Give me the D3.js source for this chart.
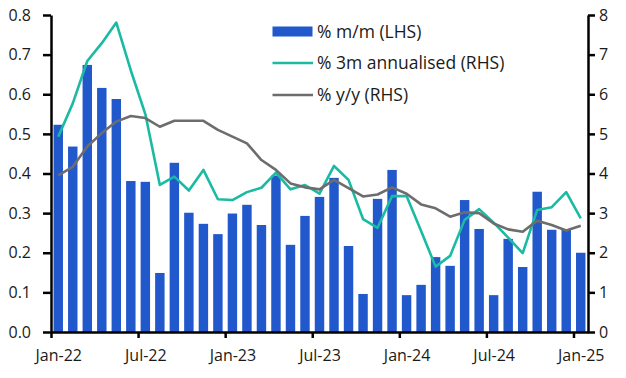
<!DOCTYPE html>
<html>
<head>
<meta charset="utf-8">
<script src="https://cdn.jsdelivr.net/npm/d3@7"></script>
<style>
  html, body { margin: 0; padding: 0; background: #fff; }
  svg text { font-family: "Open Sans", "Noto Sans", sans-serif; fill: #1a1a1a; }
</style>
</head>
<body>
<svg id="chart" width="626" height="378"></svg>
<script>
const months = ["Jan-22","Feb-22","Mar-22","Apr-22","May-22","Jun-22","Jul-22","Aug-22","Sep-22","Oct-22","Nov-22","Dec-22",
  "Jan-23","Feb-23","Mar-23","Apr-23","May-23","Jun-23","Jul-23","Aug-23","Sep-23","Oct-23","Nov-23","Dec-23",
  "Jan-24","Feb-24","Mar-24","Apr-24","May-24","Jun-24","Jul-24","Aug-24","Sep-24","Oct-24","Nov-24","Dec-24","Jan-25"];
const mom = [0.523,0.468,0.674,0.616,0.588,0.381,0.379,0.149,0.427,0.301,0.273,0.247,
  0.299,0.321,0.270,0.395,0.220,0.293,0.341,0.389,0.217,0.096,0.336,0.409,
  0.093,0.119,0.189,0.167,0.333,0.260,0.093,0.235,0.164,0.354,0.258,0.258,0.200];
const ann3m = [4.93,5.77,6.84,7.29,7.81,6.6,5.5,3.71,3.92,3.57,4.09,3.35,
  3.33,3.53,3.64,4.02,3.60,3.71,3.49,4.19,3.84,2.85,2.63,3.43,
  3.43,2.55,1.65,1.92,2.83,3.10,2.76,2.38,1.99,3.08,3.15,3.53,2.87];
const yoy = [3.95,4.17,4.68,5.02,5.31,5.45,5.40,5.18,5.33,5.33,5.33,5.10,
  4.93,4.76,4.34,4.09,3.75,3.65,3.60,3.84,3.63,3.42,3.47,3.65,
  3.49,3.22,3.12,2.91,3.02,3.00,2.74,2.59,2.53,2.81,2.70,2.56,2.68];
const xTickIdx = [0,6,12,18,24,30,36];
const xTickLabels = ["Jan-22","Jul-22","Jan-23","Jul-23","Jan-24","Jul-24","Jan-25"];
const leftTicks = [0,0.1,0.2,0.3,0.4,0.5,0.6,0.7,0.8];
const rightTicks = [0,1,2,3,4,5,6,7,8];
const legendLabels = ["% m/m (LHS)","% 3m annualised (RHS)","% y/y (RHS)"];

const colBar = "#2158cc", colTeal = "#1bbaa3", colGrey = "#6d6d6d";
const L = 51, R = 588, T = 15, B = 332;
const svg = d3.select("#chart");

const x = d3.scaleBand().domain(months).range([L, R]).paddingInner(0.35).paddingOuter(0.175);
const xi = d3.scaleLinear().domain([0, months.length]).range([L, R]);
const yL = d3.scaleLinear().domain([0, 0.8]).range([B, T]);
const yR = d3.scaleLinear().domain([0, 8]).range([B, T]);

// bars
svg.append("g").selectAll("rect").data(mom).join("rect")
  .attr("x", (d,i) => x(months[i]))
  .attr("width", x.bandwidth())
  .attr("y", d => yL(d))
  .attr("height", d => yL(0) - yL(d))
  .attr("fill", colBar);

const cx = i => x(months[i]) + x.bandwidth()/2;
const lineR = d3.line().x((d,i) => cx(i)).y(d => yR(d));
svg.append("path").datum(ann3m).attr("d", lineR).attr("fill","none")
  .attr("stroke", colTeal).attr("stroke-width", 2.6).attr("stroke-linejoin","round");
svg.append("path").datum(yoy).attr("d", lineR).attr("fill","none")
  .attr("stroke", colGrey).attr("stroke-width", 2.6).attr("stroke-linejoin","round");

// axes
function styleAxis(g) {
  g.selectAll(".domain").attr("stroke","#000").attr("stroke-width",2.5);
  g.selectAll(".tick line").attr("stroke","#000").attr("stroke-width",2.5);
  g.selectAll("text").style("font-size","16px").style("font-family","'Open Sans', sans-serif").attr("fill","#1a1a1a");
}
svg.append("g").attr("transform",`translate(${L},0)`)
  .call(d3.axisLeft(yL).tickValues(leftTicks).tickFormat(d3.format(".1f")).tickSize(8).tickSizeOuter(0).tickPadding(12))
  .call(styleAxis);
svg.append("g").attr("transform",`translate(${R},0)`)
  .call(d3.axisRight(yR).tickValues(rightTicks).tickFormat(d3.format("d")).tickSize(7).tickSizeOuter(0).tickPadding(4))
  .call(styleAxis);
const xAxisG = svg.append("g").attr("transform",`translate(0,${B})`)
  .call(d3.axisBottom(xi).tickValues(xTickIdx).tickFormat((d,i) => xTickLabels[i]).tickSize(6).tickSizeOuter(0).tickPadding(12))
  .call(styleAxis);
// labels sit under the month's bar centre, ticks at the month boundary
xAxisG.selectAll(".tick text").attr("x", x.step()/2);

// legend
const lg = svg.append("g");
const ly = [31.5, 63, 95];
lg.append("rect").attr("x",272.5).attr("y",ly[0]-5).attr("width",40).attr("height",10).attr("fill",colBar);
lg.append("line").attr("x1",272.5).attr("x2",313).attr("y1",ly[1]).attr("y2",ly[1]).attr("stroke",colTeal).attr("stroke-width",2.6);
lg.append("line").attr("x1",272.5).attr("x2",313).attr("y1",ly[2]).attr("y2",ly[2]).attr("stroke",colGrey).attr("stroke-width",2.6);
lg.selectAll("text").data(legendLabels).join("text")
  .attr("x",317).attr("y",(d,i) => ly[i]).attr("dy","0.35em")
  .style("font-size","17.5px").text(d => d);
</script>
</body>
</html>
